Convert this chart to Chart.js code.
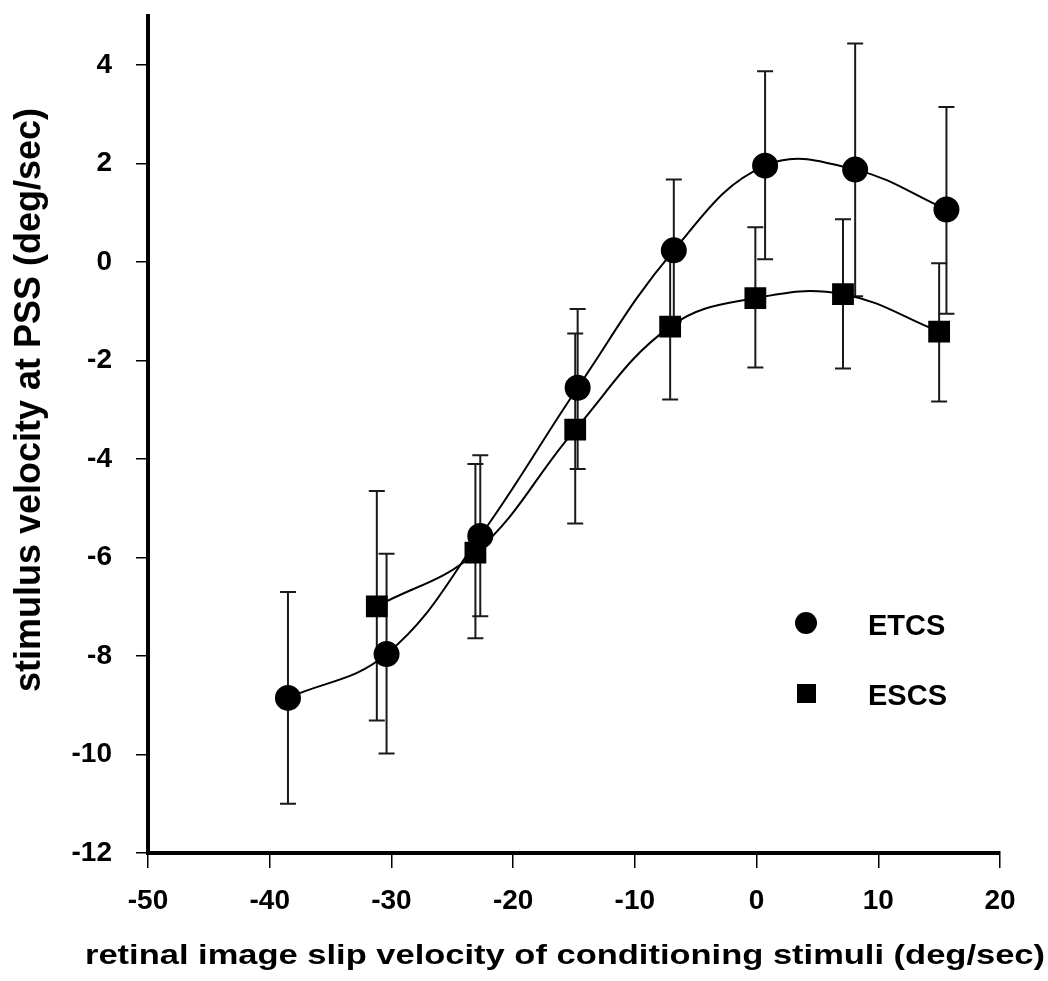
<!DOCTYPE html>
<html>
<head>
<meta charset="utf-8">
<script src="https://cdn.jsdelivr.net/npm/chart.js@4"></script>
<style>
  html, body { margin: 0; padding: 0; background: #fff; }
  #wrap { width: 1048px; height: 981px; }
</style>
</head>
<body>
<div id="wrap"><canvas id="c" width="1048" height="981"></canvas></div>
<script>
// ---- data ----
const etcsX  = [-38.5, -30.4, -22.7, -14.7, -6.8, 0.7, 8.1, 15.6];
const etcsY  = [-8.85, -7.96, -5.56, -2.55, 0.24, 1.96, 1.88, 1.07];
const etcsHi = [-6.7, -5.92, -3.92, -0.95, 1.68, 3.88, 4.44, 3.15];
const etcsLo = [-11.0, -9.98, -7.19, -4.2, -1.2, 0.06, -0.69, -1.05];

const escsX  = [-31.2, -23.1, -14.9, -7.1, -0.1, 7.1, 15.0];
const escsY  = [-6.99, -5.9, -3.4, -1.31, -0.73, -0.65, -1.41];
const escsHi = [-4.65, -4.1, -1.45, 0.17, 0.71, 0.87, -0.02];
const escsLo = [-9.31, -7.64, -5.31, -2.79, -2.14, -2.16, -2.83];

const seriesNames = ["ETCS", "ESCS"];
const xTitle = "retinal image slip velocity of conditioning stimuli (deg/sec)";
const yTitle = "stimulus velocity at PSS (deg/sec)";
const xMin = -50, xMax = 20, xStep = 10;
const yMin = -12, yMax = 5, yStep = 2;

const FONT = "'Liberation Sans', Arial, Helvetica, sans-serif";

function pts(xs, ys) { return xs.map((x, i) => ({ x: x, y: ys[i] })); }

const errorBars = [
  { xs: etcsX, hi: etcsHi, lo: etcsLo },
  { xs: escsX, hi: escsHi, lo: escsLo }
];

const extras = {
  id: 'extras',
  beforeDatasetsDraw(chart) {
    const ctx = chart.ctx, xs = chart.scales.x, ys = chart.scales.y;
    ctx.save();
    ctx.strokeStyle = '#1a1a1a';
    ctx.lineWidth = 2;
    errorBars.forEach(eb => {
      eb.xs.forEach((xv, i) => {
        const px = xs.getPixelForValue(xv);
        const pHi = ys.getPixelForValue(eb.hi[i]);
        const pLo = ys.getPixelForValue(eb.lo[i]);
        ctx.beginPath();
        ctx.moveTo(px, pHi); ctx.lineTo(px, pLo);
        ctx.moveTo(px - 8, pHi); ctx.lineTo(px + 8, pHi);
        ctx.moveTo(px - 8, pLo); ctx.lineTo(px + 8, pLo);
        ctx.stroke();
      });
    });
    ctx.restore();
  },
  afterDraw(chart) {
    const ctx = chart.ctx;
    ctx.save();
    // legend
    ctx.fillStyle = '#000';
    ctx.beginPath();
    ctx.arc(806, 623, 11, 0, Math.PI * 2);
    ctx.fill();
    ctx.fillRect(797, 684, 19, 19);
    ctx.font = "bold 29px " + FONT;
    ctx.textAlign = 'left';
    ctx.textBaseline = 'middle';
    ctx.fillText(seriesNames[0], 868, 627);
    ctx.fillText(seriesNames[1], 868, 697);
    ctx.restore();

    // x title (wide lettering as in the reference)
    ctx.save();
    ctx.fillStyle = '#000';
    ctx.font = "bold 28px " + FONT;
    ctx.textAlign = 'center';
    ctx.textBaseline = 'alphabetic';
    const w = ctx.measureText(xTitle).width;
    ctx.translate(565, 964);
    ctx.scale(960 / w, 1);
    ctx.fillText(xTitle, 0, 0);
    ctx.restore();

    // y title
    ctx.save();
    ctx.fillStyle = '#000';
    ctx.translate(40, 400);
    ctx.rotate(-Math.PI / 2);
    ctx.textAlign = 'center';
    ctx.textBaseline = 'alphabetic';
    ctx.font = "bold 36px " + FONT;
    ctx.fillText(yTitle, 0, 0);
    ctx.restore();
  }
};

new Chart(document.getElementById('c'), {
  type: 'scatter',
  data: {
    datasets: [
      {
        label: seriesNames[0],
        data: pts(etcsX, etcsY),
        showLine: true,
        tension: 0.4,
        borderColor: '#000',
        borderWidth: 2,
        pointStyle: 'circle',
        pointRadius: 12,
        pointBackgroundColor: '#000',
        pointBorderColor: '#000'
      },
      {
        label: seriesNames[1],
        data: pts(escsX, escsY),
        showLine: true,
        tension: 0.4,
        borderColor: '#000',
        borderWidth: 2,
        pointStyle: 'rect',
        pointRadius: 14,
        pointBackgroundColor: '#000',
        pointBorderColor: '#000'
      }
    ]
  },
  options: {
    responsive: false,
    animation: false,
    devicePixelRatio: 1,
    layout: { padding: { top: 13, right: 48, left: 0, bottom: 0 } },
    plugins: { legend: { display: false }, tooltip: { enabled: false } },
    scales: {
      x: {
        type: 'linear',
        min: xMin, max: xMax,
        afterFit(s) { s.height = 128; s.paddingLeft = 0; s.paddingRight = 0; },
        ticks: {
          stepSize: xStep,
          color: '#000',
          font: { family: FONT, size: 28, weight: 'bold' },
          padding: 16,
          maxRotation: 0
        },
        grid: {
          display: true, drawOnChartArea: false, drawTicks: true,
          tickLength: 15, color: '#000', lineWidth: 1.5
        },
        border: { display: true, color: '#000', width: 4 },
        title: { display: false, text: xTitle }
      },
      y: {
        type: 'linear',
        min: yMin, max: yMax,
        afterFit(s) { s.width = 148; s.paddingTop = 0; s.paddingBottom = 0; },
        ticks: {
          stepSize: yStep,
          includeBounds: false,
          color: '#000',
          font: { family: FONT, size: 28, weight: 'bold' },
          padding: 24
        },
        grid: {
          display: true, drawOnChartArea: false, drawTicks: true,
          tickLength: 12, color: '#000', lineWidth: 1.5
        },
        border: { display: true, color: '#000', width: 4 },
        title: { display: false, text: yTitle }
      }
    }
  },
  plugins: [extras]
});
</script>
</body>
</html>
